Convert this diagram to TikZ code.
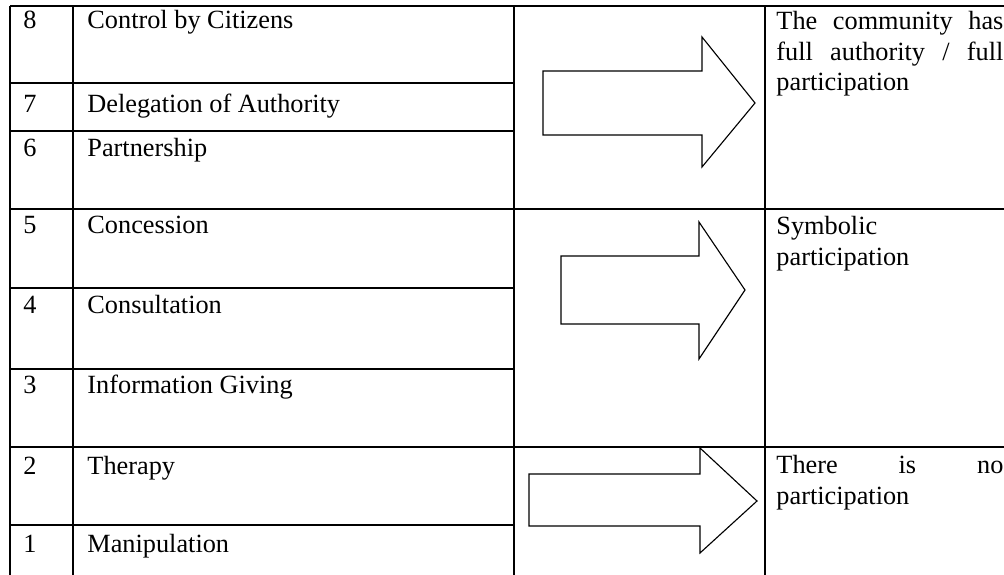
\documentclass[tikz,border=0pt]{standalone}
\usepackage{fontspec}
\setmainfont{Liberation Serif}
\usepackage{tikz}
\usetikzlibrary{positioning}

\begin{document}
\begin{tikzpicture}[x=0.445pt, y=-0.445pt]
\tikzset{
  rung/.style   = {anchor=base west, inner sep=0pt, font=\fontsize{11.7pt}{13.4pt}\selectfont},
  level/.style  = {anchor=base west, inner sep=0pt, text width=101pt, align=justify, font=\fontsize{11.7pt}{13.4pt}\selectfont},
  grid/.style   = {line width=0.85pt},
  bigarrow/.style = {draw, line width=0.5pt, line join=miter, fill=white}
}
\useasboundingbox (0,0) rectangle (1004,575);

% Table lines
\draw[grid] (10,6) -- (1004,6);
\draw[grid] (10,83) -- (514,83);
\draw[grid] (10,131) -- (514,131);
\draw[grid] (10,209) -- (1004,209);
\draw[grid] (10,288) -- (514,288);
\draw[grid] (10,369) -- (514,369);
\draw[grid] (10,447) -- (1004,447);
\draw[grid] (10,525) -- (514,525);
\draw[grid] (10,6) -- (10,575);
\draw[grid] (73,6) -- (73,575);
\draw[grid] (514,6) -- (514,575);
\draw[grid] (765,6) -- (765,575);

% Ladder rungs
\node[rung] (n8) at (23,29)  {8};
\node[rung] (n7) at (23,113) {7};
\node[rung] (n6) at (23,157) {6};
\node[rung] (n5) at (23,234) {5};
\node[rung] (n4) at (23,314) {4};
\node[rung] (n3) at (23,394) {3};
\node[rung] (n2) at (23,475) {2};
\node[rung] (n1) at (23,553) {1};

\node[rung] (control)  at (87,29)  {Control by Citizens};
\node[rung] (deleg)    at (87,113) {Delegation of Authority};
\node[rung] (partner)  at (87,157) {Partnership};
\node[rung] (concess)  at (87,234) {Concession};
\node[rung] (consult)  at (87,314) {Consultation};
\node[rung] (inform)   at (87,394) {Information Giving};
\node[rung] (therapy)  at (87,475) {Therapy};
\node[rung] (manip)    at (87,553) {Manipulation};

% Arrows
\draw[bigarrow] (543,71) -- (702,71) -- (702,37) -- (755,103) -- (702,167) -- (702,135) -- (543,135) -- cycle;
\draw[bigarrow] (561,256) -- (699,256) -- (699,222) -- (745,290) -- (699,359) -- (699,324) -- (561,324) -- cycle;
\draw[bigarrow] (529,474) -- (700,474) -- (700,448) -- (757,501) -- (700,553) -- (700,526) -- (529,526) -- cycle;

% Levels of participation
\node[level] (full)     at (776,30)  {The community has\linebreak full authority / full\linebreak participation};
\node[level] (symbolic) at (776,235) {Symbolic\linebreak participation};
\node[level] (none)     at (776,474) {There is no\linebreak participation};

\end{tikzpicture}
\end{document}
